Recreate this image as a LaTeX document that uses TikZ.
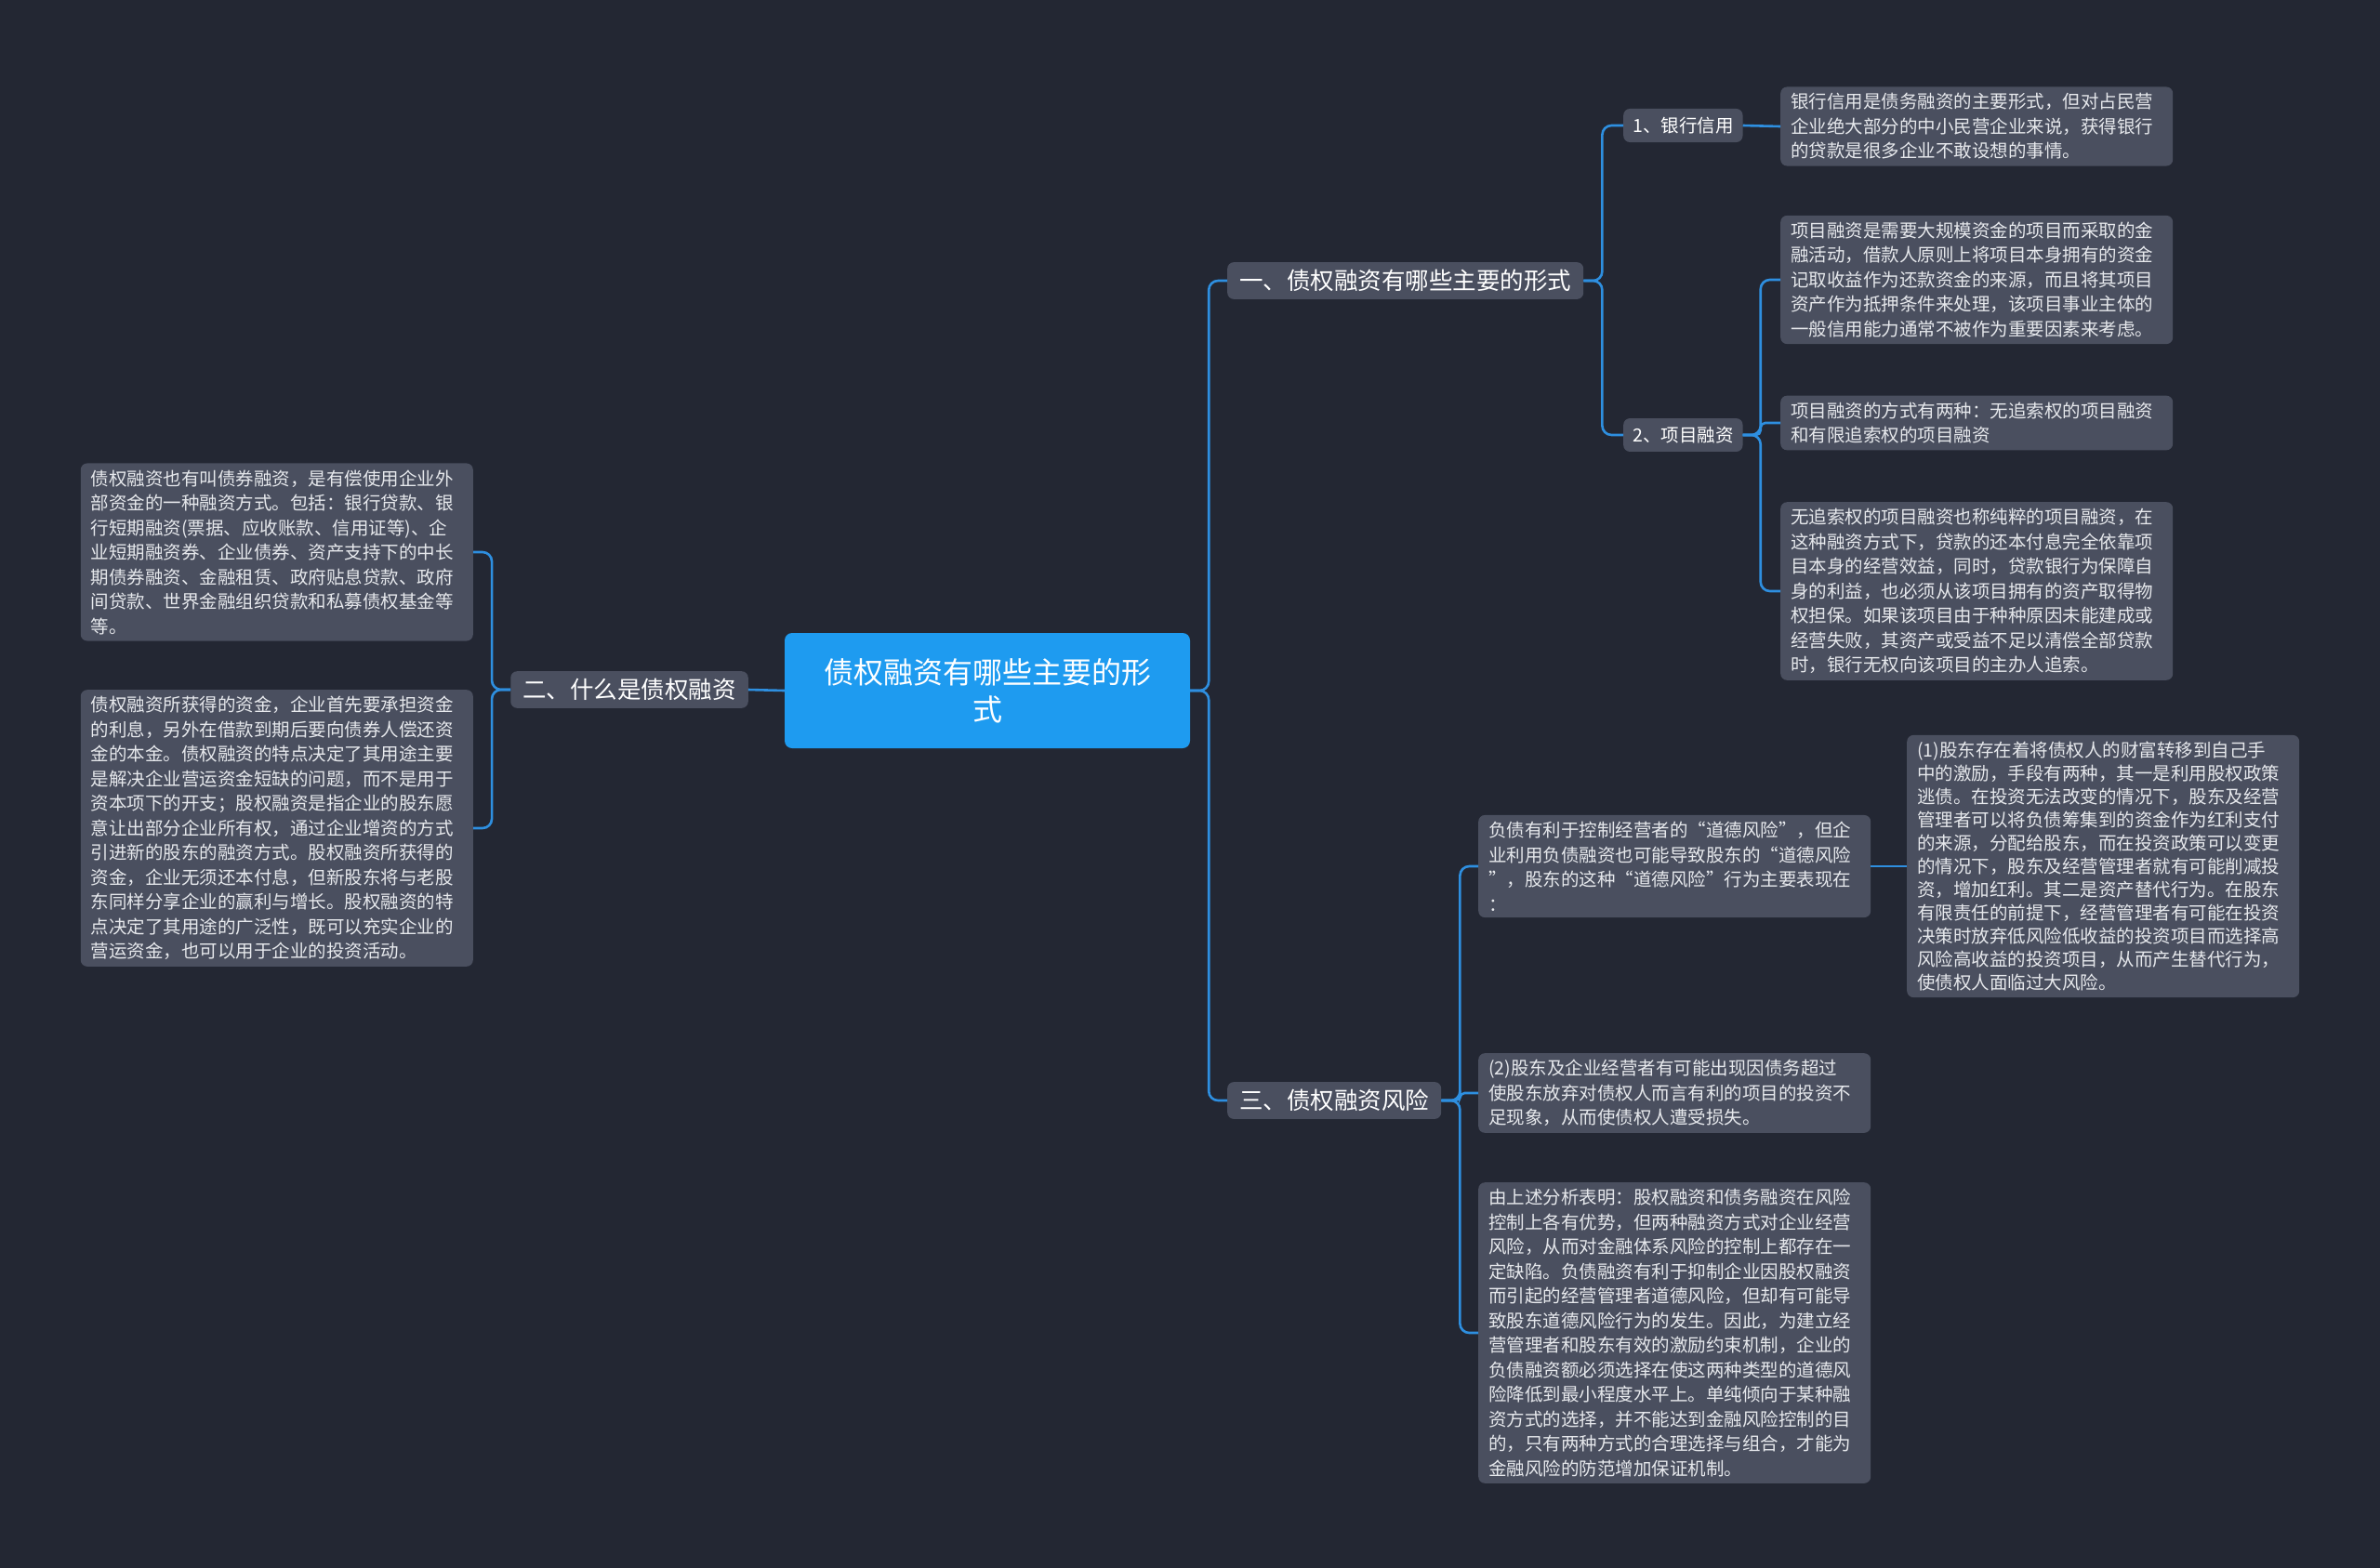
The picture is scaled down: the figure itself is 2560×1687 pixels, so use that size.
\documentclass[tikz,border=0pt]{standalone}
\usepackage{fontspec}
\setmainfont{Noto Sans CJK SC}
\definecolor{bg}{HTML}{232733}
\definecolor{box}{HTML}{4A4F5F}
\definecolor{rootc}{HTML}{1E9BF0}
\definecolor{line}{HTML}{2E8FE0}
\definecolor{txt}{HTML}{E6E8EC}
\begin{document}
\begin{tikzpicture}[x=1pt,y=-1pt,
  txtbox/.style={draw=none,fill=box,rounded corners=7pt,text=txt,anchor=west,align=left,
    text width=400pt,inner xsep=11pt,inner ysep=7pt,font=\fontsize{19.5}{26.5}\selectfont},
  lbl/.style={fill=box,rounded corners=7pt,text=white,anchor=west,inner xsep=13pt,inner ysep=8pt,font=\fontsize{25.5}{30}\selectfont},
  sub/.style={fill=box,rounded corners=7pt,text=white,anchor=west,inner xsep=10pt,inner ysep=9pt,font=\fontsize{19.5}{24}\selectfont},
  conn/.style={draw=line,line width=2.6pt,rounded corners=10pt}]
\path[fill=bg] (0,0) rectangle (2560,1687);
\node[fill=rootc,rounded corners=8pt,text=white,align=center,minimum width=436pt,minimum height=124pt,font=\fontsize{32}{40}\selectfont] (root) at (1062,743) {债权融资有哪些主要的形\\式};
\node[lbl,anchor=center] (b2) at (677,742) {二、什么是债权融资};
\node[lbl] (b1) at (1320,302) {一、债权融资有哪些主要的形式};
\node[lbl] (b3) at (1320,1184) {三、债权融资风险};
\node[sub] (s1) at (1746,135) {1、银行信用};
\node[sub] (s2) at (1746,468) {2、项目融资};
\node[txtbox,anchor=east] (l1) at (509,594) {债权融资也有叫债券融资，是有偿使用企业外\\部资金的一种融资方式。包括：银行贷款、银\\行短期融资(票据、应收账款、信用证等)、企\\业短期融资券、企业债券、资产支持下的中长\\期债券融资、金融租赁、政府贴息贷款、政府\\间贷款、世界金融组织贷款和私募债权基金等\\等。};
\node[txtbox,anchor=east] (l2) at (509,891) {债权融资所获得的资金，企业首先要承担资金\\的利息，另外在借款到期后要向债券人偿还资\\金的本金。债权融资的特点决定了其用途主要\\是解决企业营运资金短缺的问题，而不是用于\\资本项下的开支；股权融资是指企业的股东愿\\意让出部分企业所有权，通过企业增资的方式\\引进新的股东的融资方式。股权融资所获得的\\资金，企业无须还本付息，但新股东将与老股\\东同样分享企业的赢利与增长。股权融资的特\\点决定了其用途的广泛性，既可以充实企业的\\营运资金，也可以用于企业的投资活动。};
\node[txtbox] (t1) at (1915,136) {银行信用是债务融资的主要形式，但对占民营\\企业绝大部分的中小民营企业来说，获得银行\\的贷款是很多企业不敢设想的事情。};
\node[txtbox] (p1) at (1915,301) {项目融资是需要大规模资金的项目而采取的金\\融活动，借款人原则上将项目本身拥有的资金\\记取收益作为还款资金的来源，而且将其项目\\资产作为抵押条件来处理，该项目事业主体的\\一般信用能力通常不被作为重要因素来考虑。};
\node[txtbox] (p2) at (1915,455) {项目融资的方式有两种：无追索权的项目融资\\和有限追索权的项目融资};
\node[txtbox] (p3) at (1915,636) {无追索权的项目融资也称纯粹的项目融资，在\\这种融资方式下，贷款的还本付息完全依靠项\\目本身的经营效益，同时，贷款银行为保障自\\身的利益，也必须从该项目拥有的资产取得物\\权担保。如果该项目由于种种原因未能建成或\\经营失败，其资产或受益不足以清偿全部贷款\\时，银行无权向该项目的主办人追索。};
\node[txtbox] (r1) at (1590,932) {负债有利于控制经营者的“道德风险”，但企\\业利用负债融资也可能导致股东的“道德风险\\”，股东的这种“道德风险”行为主要表现在\\：};
\node[txtbox,font=\fontsize{19.5}{25}\selectfont] (r1a) at (2051,932) {(1)股东存在着将债权人的财富转移到自己手\\中的激励，手段有两种，其一是利用股权政策\\逃债。在投资无法改变的情况下，股东及经营\\管理者可以将负债筹集到的资金作为红利支付\\的来源，分配给股东，而在投资政策可以变更\\的情况下，股东及经营管理者就有可能削减投\\资，增加红利。其二是资产替代行为。在股东\\有限责任的前提下，经营管理者有可能在投资\\决策时放弃低风险低收益的投资项目而选择高\\风险高收益的投资项目，从而产生替代行为，\\使债权人面临过大风险。};
\node[txtbox] (r2) at (1590,1176) {(2)股东及企业经营者有可能出现因债务超过\\使股东放弃对债权人而言有利的项目的投资不\\足现象，从而使债权人遭受损失。};
\node[txtbox] (r3) at (1590,1434) {由上述分析表明：股权融资和债务融资在风险\\控制上各有优势，但两种融资方式对企业经营\\风险，从而对金融体系风险的控制上都存在一\\定缺陷。负债融资有利于抑制企业因股权融资\\而引起的经营管理者道德风险，但却有可能导\\致股东道德风险行为的发生。因此，为建立经\\营管理者和股东有效的激励约束机制，企业的\\负债融资额必须选择在使这两种类型的道德风\\险降低到最小程度水平上。单纯倾向于某种融\\资方式的选择，并不能达到金融风险控制的目\\的，只有两种方式的合理选择与组合，才能为\\金融风险的防范增加保证机制。};
% connectors
\draw[conn] (root.east) -- ++(20,0) |- (b1.west);
\draw[conn] (root.east) -- ++(20,0) |- (b3.west);
\draw[conn] (root.west) -- (b2.east);
\draw[conn] (b2.west) -- ++(-20,0) |- (l1.east);
\draw[conn] (b2.west) -- ++(-20,0) |- (l2.east);
\draw[conn] (b1.east) -- ++(20,0) |- (s1.west);
\draw[conn] (b1.east) -- ++(20,0) |- (s2.west);
\draw[conn] (s1.east) -- (t1.west);
\draw[conn] (s2.east) -- ++(19,0) |- (p1.west);
\draw[conn,rounded corners=5pt] (s2.east) -- ++(19,0) |- (p2.west);
\draw[conn] (s2.east) -- ++(19,0) |- (p3.west);
\draw[conn] (b3.east) -- ++(20,0) |- (r1.west);
\draw[conn,rounded corners=5pt] (b3.east) -- ++(20,0) |- (r2.west);
\draw[conn] (b3.east) -- ++(20,0) |- (r3.west);
\draw[conn] (r1.east) -- (r1a.west);
\end{tikzpicture}
\end{document}
